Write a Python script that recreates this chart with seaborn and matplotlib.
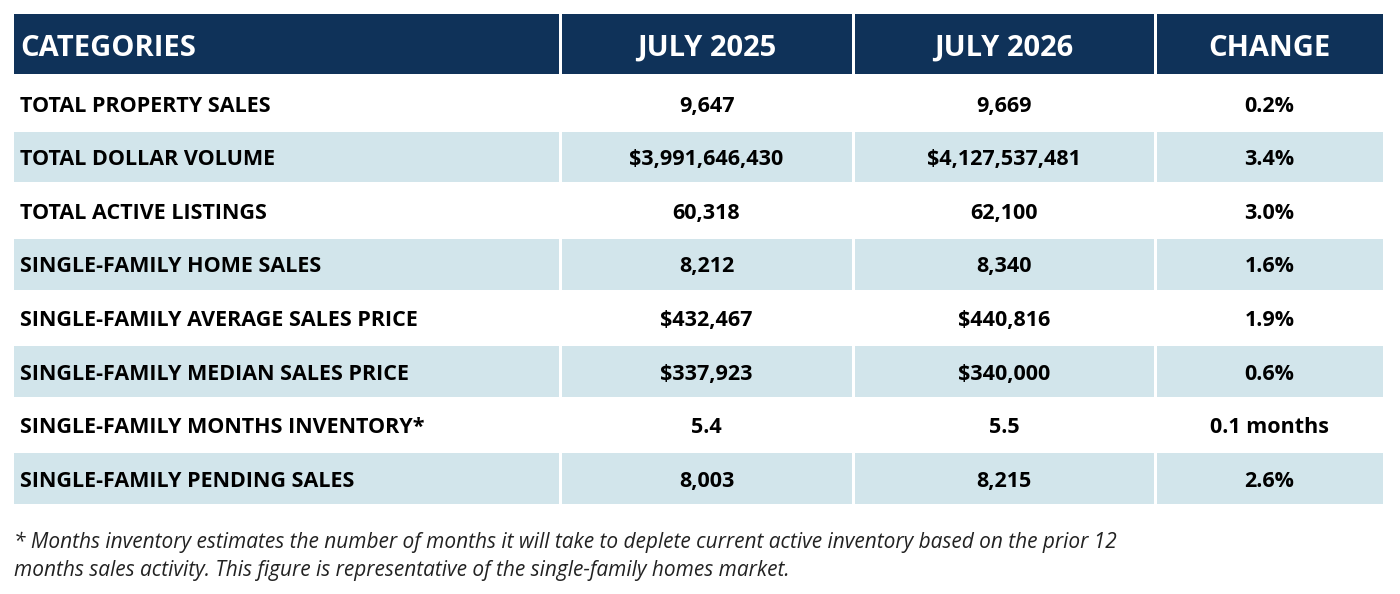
import matplotlib
matplotlib.use("Agg")
import matplotlib.pyplot as plt
import seaborn as sns
import numpy as np
from matplotlib.colors import ListedColormap

headers = ["CATEGORIES", "JULY 2025", "JULY 2026", "CHANGE"]
categories = ["TOTAL PROPERTY SALES", "TOTAL DOLLAR VOLUME", "TOTAL ACTIVE LISTINGS",
              "SINGLE-FAMILY HOME SALES", "SINGLE-FAMILY AVERAGE SALES PRICE",
              "SINGLE-FAMILY MEDIAN SALES PRICE", "SINGLE-FAMILY MONTHS INVENTORY*",
              "SINGLE-FAMILY PENDING SALES"]
july_2025 = ["9,647", "$3,991,646,430", "60,318", "8,212", "$432,467", "$337,923", "5.4", "8,003"]
july_2026 = ["9,669", "$4,127,537,481", "62,100", "8,340", "$440,816", "$340,000", "5.5", "8,215"]
change = ["0.2%", "3.4%", "3.0%", "1.6%", "1.9%", "0.6%", "0.1 months", "2.6%"]
footnote = ("* Months inventory estimates the number of months it will take to deplete current active inventory based on the prior 12\n"
            "months sales activity. This figure is representative of the single-family homes market.")

sns.set_style("white")
plt.rcParams['font.family'] = ['Open Sans', 'DejaVu Sans']

W, H = 1400, 594
fig = plt.figure(figsize=(14, 5.94), dpi=100)
navy = "#0f3259"
light = "#d2e5eb"
col_edges = [12, 560, 853, 1155, 1384]

def add_ax(x0, y0, x1, y1):
    return fig.add_axes([x0 / W, 1 - y1 / H, (x1 - x0) / W, (y1 - y0) / H])

# header
hax = add_ax(12, 12, 1384, 75)
hdata = np.zeros((1, 4))
hax.pcolormesh(col_edges, [0, 1], hdata, cmap=ListedColormap([navy]), edgecolors="white", linewidth=2)
hax.set_xlim(12, 1384); hax.set_ylim(1, 0); hax.axis("off")
for i, h in enumerate(headers):
    if i == 0:
        hax.text(20, 0.58, h, color="white", fontsize=21, fontweight="bold", va="center", ha="left")
    else:
        hax.text((col_edges[i] + col_edges[i + 1]) / 2, 0.58, h, color="white", fontsize=21,
                 fontweight="bold", va="center", ha="center")

# body
bax = add_ax(12, 76, 1384, 505)
n = len(categories)
bdata = np.array([[r % 2] * 4 for r in range(n)], dtype=float)
bax.pcolormesh(col_edges, np.arange(n + 1), bdata, cmap=ListedColormap(["white", light]),
               edgecolors="white", linewidth=2)
bax.set_xlim(12, 1384); bax.set_ylim(n, 0); bax.axis("off")
for r in range(n):
    y = r + 0.56
    bax.text(20, y, categories[r], fontsize=15.5, fontweight="bold", va="center", ha="left", color="black")
    for c, vals in enumerate([july_2025, july_2026, change], start=1):
        bax.text((col_edges[c] + col_edges[c + 1]) / 2, y, vals[r], fontsize=15.5, fontweight="bold",
                 va="center", ha="center", color="black")

fig.text(14 / W, 1 - 556 / H, footnote, fontsize=15, style="italic", va="center", ha="left",
         linespacing=1.45, color="#222222")

fig.savefig("out.png", dpi=100, facecolor="white")
